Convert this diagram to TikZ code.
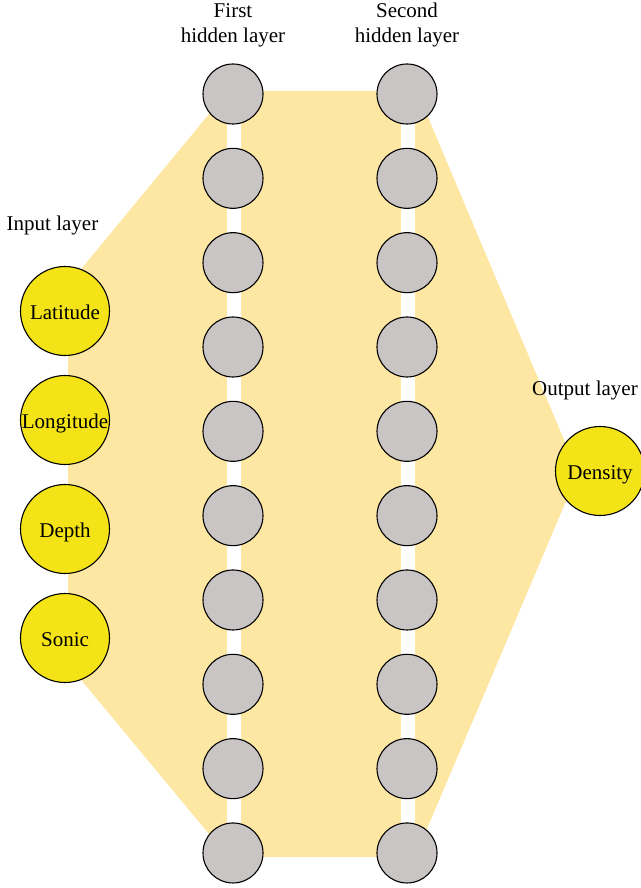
\documentclass[tikz,border=0pt]{standalone}
\usepackage{fontspec}
\setmainfont{Liberation Serif}
\definecolor{bgyel}{RGB}{253,231,163}
\definecolor{inyel}{RGB}{244,227,22}
\definecolor{hgray}{RGB}{201,197,197}
\begin{document}
\begin{tikzpicture}[x=1pt,y=-1pt,
  hid/.style={circle,draw=black,line width=1.1pt,fill=hgray,minimum size=60pt,inner sep=0pt},
  io/.style={circle,draw=black,line width=1.1pt,fill=inyel,minimum size=89pt,inner sep=0pt,text height=16pt,text depth=0pt,font=\fontsize{21}{25}\selectfont},
  lbl/.style={font=\fontsize{21}{25}\selectfont,inner sep=0pt,anchor=base}]
\useasboundingbox (0,0) rectangle (640,888);
% background polygon
\fill[bgyel] (228,91) -- (417,91) -- (578,473) -- (415,857) -- (228,857) -- (68,664) -- (68,285) -- cycle;
% white strips
\fill[white] (227,94) rectangle (241,853);
\fill[white] (401,94) rectangle (415,853);
% hidden layers
\foreach \i in {0,...,9}{
  \node[hid] (a\i) at (233,{94+84.33*\i}) {};
  \node[hid] (b\i) at (407,{94+84.33*\i}) {};
}
% input layer
\node[io] (lat) at (65,311) {Latitude};
\node[io] (lon) at (65,420) {Longitude};
\node[io] (dep) at (65,529) {Depth};
\node[io] (son) at (65,638) {Sonic};
% output
\node[io] (den) at (600,471) {Density};
% labels
\node[lbl] (tin) at (52.5,230) {Input layer};
\node[lbl] (t1a) at (233,18) {First};
\node[lbl] (t1b) at (233,43) {hidden layer};
\node[lbl] (t2a) at (407,18) {Second};
\node[lbl] (t2b) at (407,43) {hidden layer};
\node[lbl,anchor=base west] (tout) at (532,395) {Output layer};
\end{tikzpicture}
\end{document}
